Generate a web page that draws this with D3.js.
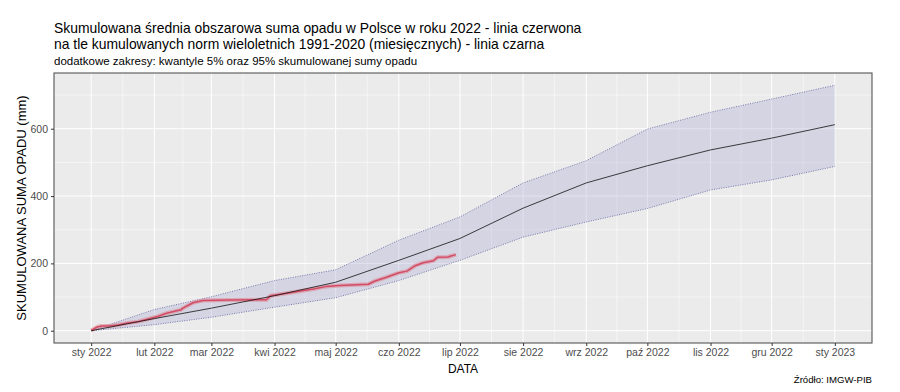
<!DOCTYPE html>
<html>
<head>
<meta charset="utf-8">
<script src="https://cdn.jsdelivr.net/npm/d3@7"></script>
<style>
  body { margin: 0; background: #fff; }
  svg { display: block; font-family: "Liberation Sans", Arial, sans-serif; }
</style>
</head>
<body>
<svg></svg>
<script>
// monthly norms 1991-2020 (cumulative), with 5% / 95% quantiles
const monthDates = ["2022-01-01", "2022-02-01", "2022-03-01", "2022-04-01", "2022-05-01", "2022-06-01",
    "2022-07-01", "2022-08-01", "2022-09-01", "2022-10-01", "2022-11-01", "2022-12-01", "2023-01-01"];
const normValues = [0, 36, 67, 104, 144, 209, 274, 364, 439, 490, 537, 572, 612];
const q95Values = [0, 63, 101, 149, 181, 269, 338, 439, 505, 599, 649, 688, 729];
const q05Values = [0, 18, 40, 70, 98, 149, 209, 278, 323, 363, 418, 448, 488];

// observed cumulative precipitation 2022
const obsDates = ["2022-01-01", "2022-01-04", "2022-01-06", "2022-01-10", "2022-01-14", "2022-01-19",
    "2022-01-24", "2022-01-29", "2022-02-03", "2022-02-07", "2022-02-14", "2022-02-15", "2022-02-20",
    "2022-02-25", "2022-03-11", "2022-03-28", "2022-03-30", "2022-04-07", "2022-04-13", "2022-04-20",
    "2022-04-26", "2022-05-03", "2022-05-17", "2022-05-20", "2022-05-26", "2022-06-01", "2022-06-05",
    "2022-06-09", "2022-06-13", "2022-06-18", "2022-06-20", "2022-06-25", "2022-06-29"];
const obsValues = [1, 11, 14, 14, 17, 23, 27, 35, 43, 52, 62, 67, 83, 90, 91, 92, 104, 111, 117, 124,
    131, 134, 138, 147, 159, 172, 177, 193, 202, 208, 218, 219, 226];

const yTicks = [0, 200, 400, 600];
const monthNames = ["sty", "lut", "mar", "kwi", "maj", "czo", "lip", "sie", "wrz", "paź", "lis", "gru"];

const width = 900;
const height = 392;
const panel = { left: 54, right: 872, top: 73, bottom: 343 };

const parse = d3.utcParse("%Y-%m-%d");
const norms = monthDates.map((d, i) => ({ date: parse(d), norm: normValues[i], lo: q05Values[i], hi: q95Values[i] }));
const obs = obsDates.map((d, i) => ({ date: parse(d), value: obsValues[i] }));

const svg = d3.select("svg")
    .attr("width", width)
    .attr("height", height)
    .attr("viewBox", `0 0 ${width} ${height}`);

// ggplot-like 5% expansion
const xExt = d3.extent(norms, d => d.date);
const xPad = (xExt[1] - xExt[0]) * 0.05;
const x = d3.scaleUtc()
    .domain([new Date(+xExt[0] - xPad), new Date(+xExt[1] + xPad)])
    .range([panel.left, panel.right]);

const yMax = d3.max(q95Values);
const y = d3.scaleLinear()
    .domain([-yMax * 0.05, yMax * 1.05])
    .range([panel.bottom, panel.top]);

// panel background
svg.append("rect")
    .attr("x", panel.left).attr("y", panel.top)
    .attr("width", panel.right - panel.left).attr("height", panel.bottom - panel.top)
    .attr("fill", "#EBEBEB");

const grid = svg.append("g");
const xTicks = norms.map(d => d.date);
const xMinor = d3.pairs(xTicks).map(([a, b]) => new Date((+a + +b) / 2));
const yMinor = d3.pairs(yTicks).map(([a, b]) => (a + b) / 2).concat([700]);

grid.selectAll(".ymin").data(yMinor).join("line")
    .attr("x1", panel.left).attr("x2", panel.right)
    .attr("y1", d => y(d)).attr("y2", d => y(d))
    .attr("stroke", "#fff").attr("stroke-width", 0.5);
grid.selectAll(".xmin").data(xMinor).join("line")
    .attr("y1", panel.top).attr("y2", panel.bottom)
    .attr("x1", d => x(d)).attr("x2", d => x(d))
    .attr("stroke", "#fff").attr("stroke-width", 0.5);
grid.selectAll(".ymaj").data(yTicks).join("line")
    .attr("x1", panel.left).attr("x2", panel.right)
    .attr("y1", d => y(d)).attr("y2", d => y(d))
    .attr("stroke", "#fff").attr("stroke-width", 1);
grid.selectAll(".xmaj").data(xTicks).join("line")
    .attr("y1", panel.top).attr("y2", panel.bottom)
    .attr("x1", d => x(d)).attr("x2", d => x(d))
    .attr("stroke", "#fff").attr("stroke-width", 1);

// quantile band
svg.append("path")
    .datum(norms)
    .attr("d", d3.area().x(d => x(d.date)).y0(d => y(d.lo)).y1(d => y(d.hi)))
    .attr("fill", "#9E9ECC")
    .attr("fill-opacity", 0.3);

["lo", "hi"].forEach(k => {
    svg.append("path")
        .datum(norms)
        .attr("d", d3.line().x(d => x(d.date)).y(d => y(d[k])))
        .attr("fill", "none")
        .attr("stroke", "#4E4E96")
        .attr("stroke-width", 0.7)
        .attr("stroke-dasharray", "1,1.4");
});

// observed line (soft halo + core)
const obsLine = d3.line().x(d => x(d.date)).y(d => y(d.value));
svg.append("path")
    .datum(obs)
    .attr("d", obsLine)
    .attr("fill", "none")
    .attr("stroke", "#E07A8C")
    .attr("stroke-opacity", 0.5)
    .attr("stroke-width", 4)
    .attr("stroke-linejoin", "round");
svg.append("path")
    .datum(obs)
    .attr("d", obsLine)
    .attr("fill", "none")
    .attr("stroke", "#D24D64")
    .attr("stroke-width", 1.5)
    .attr("stroke-linejoin", "round");

// norm line
svg.append("path")
    .datum(norms)
    .attr("d", d3.line().x(d => x(d.date)).y(d => y(d.norm)))
    .attr("fill", "none")
    .attr("stroke", "#111")
    .attr("stroke-width", 0.8);

// panel border
svg.append("rect")
    .attr("x", panel.left).attr("y", panel.top)
    .attr("width", panel.right - panel.left).attr("height", panel.bottom - panel.top)
    .attr("fill", "none")
    .attr("stroke", "#555")
    .attr("stroke-width", 1.1);

// axes
const fmt = d => `${monthNames[d.getUTCMonth()]} ${d.getUTCFullYear()}`;
const xAxis = svg.append("g")
    .attr("transform", `translate(0,${panel.bottom})`)
    .call(d3.axisBottom(x).tickValues(xTicks).tickFormat(fmt).tickSize(3).tickPadding(3));
const yAxis = svg.append("g")
    .attr("transform", `translate(${panel.left},0)`)
    .call(d3.axisLeft(y).tickValues(yTicks).tickSize(3).tickPadding(3));

[xAxis, yAxis].forEach(g => {
    g.select(".domain").remove();
    g.selectAll(".tick line").attr("stroke", "#333");
    g.selectAll(".tick text")
        .attr("fill", "#4D4D4D")
        .style("font-size", "10.5px")
        .style("font-family", "'Liberation Sans', Arial, sans-serif");
});

// titles
const title = svg.append("g").attr("fill", "#000");
title.append("text").attr("x", panel.left).attr("y", 33)
    .style("font-size", "13.9px")
    .text("Skumulowana średnia obszarowa suma opadu w Polsce w roku 2022 - linia czerwona");
title.append("text").attr("x", panel.left).attr("y", 49)
    .style("font-size", "13.9px")
    .text("na tle kumulowanych norm wieloletnich 1991-2020 (miesięcznych) - linia czarna");
title.append("text").attr("x", panel.left).attr("y", 65)
    .style("font-size", "11.5px")
    .text("dodatkowe zakresy: kwantyle 5% oraz 95% skumulowanej sumy opadu");

svg.append("text")
    .attr("x", (panel.left + panel.right) / 2).attr("y", 373)
    .attr("text-anchor", "middle")
    .style("font-size", "12px")
    .text("DATA");

svg.append("text")
    .attr("transform", `translate(26,${(panel.top + panel.bottom) / 2}) rotate(-90)`)
    .attr("text-anchor", "middle")
    .style("font-size", "13px")
    .text("SKUMULOWANA SUMA OPADU (mm)");

svg.append("text")
    .attr("x", panel.right).attr("y", 383)
    .attr("text-anchor", "end")
    .style("font-size", "9.6px")
    .text("Źródło: IMGW-PIB");
</script>
</body>
</html>
